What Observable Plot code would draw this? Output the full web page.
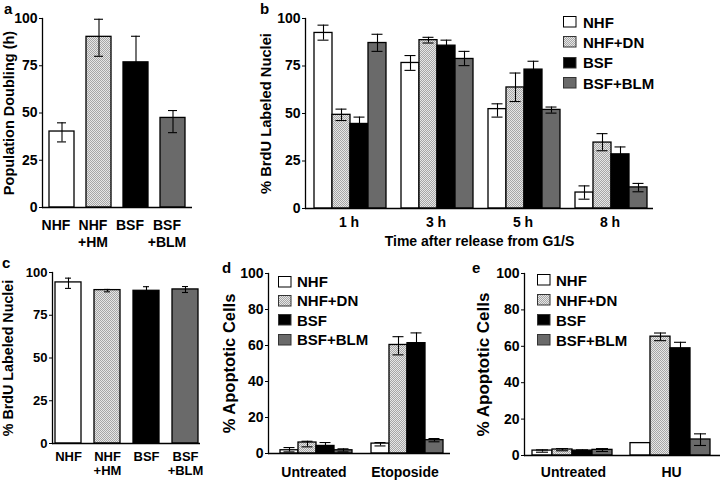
<!DOCTYPE html>
<html><head><meta charset="utf-8">
<script src="https://cdn.jsdelivr.net/npm/d3@7"></script>
<script src="https://cdn.jsdelivr.net/npm/@observablehq/plot@0.6"></script>
<style>
html,body{margin:0;padding:0;background:#fff;}
#fig{position:relative;width:720px;height:481px;overflow:hidden;font-family:"Liberation Sans",Arial,sans-serif;font-weight:bold;color:#000;background:#fff;}
.plab{position:absolute;font-size:15px;line-height:1.2;}
.legend{position:absolute;font-size:15px;line-height:1;}
.legend .row{display:flex;align-items:center;}
</style></head>
<body>
<svg style="position:absolute;width:0;height:0" aria-hidden="true"><defs>
<pattern id="chk" width="2" height="2" patternUnits="userSpaceOnUse">
<rect width="2" height="2" fill="#e6e6e6"/><rect width="1" height="1" fill="#a6a6a6"/><rect x="1" y="1" width="1" height="1" fill="#a6a6a6"/>
</pattern></defs></svg>
<div id="fig"></div>
<script>
// ---------- data ----------
const seriesNames = ["NHF", "NHF+DN", "BSF", "BSF+BLM"];

// panel a
const aCategories = ["NHF", "NHF\n+HM", "BSF", "BSF\n+BLM"];
const aValues = [40.2, 90.3, 76.8, 47.4];
const aLow    = [34.7, 80.0, 63.0, 39.6];
const aHigh   = [44.8, 99.6, 90.6, 51.3];

// panel b (rows: series, cols: time)
const bTimes = ["1 h", "3 h", "5 h", "8 h"];
const bValues = [[92.4, 76.6, 52.3, 8.4], [49.3, 88.6, 63.7, 34.7], [44.5, 85.7, 73.1, 28.5], [87.1, 78.7, 51.9, 11.1]];
const bLow    = [[88.6, 72.7, 48.1, 4.9], [46.3, 87.1, 56.3, 30.4], [40.9, 82.8, 68.7, 24.6], [82.7, 75.2, 50.2, 8.8]];
const bHigh   = [[96.5, 80.5, 55.1, 11.9], [52.3, 90.1, 71.3, 39.4], [48.1, 88.6, 77.5, 32.4], [91.7, 82.7, 53.4, 13.2]];

// panel c
const cCategories = ["NHF", "NHF\n+HM", "BSF", "BSF\n+BLM"];
const cValues = [94.2, 89.7, 89.3, 90.1];
const cLow    = [90.7, 88.7, 86.9, 88.3];
const cHigh   = [96.7, 90.1, 91.7, 91.8];

// panel d
const dTreatments = ["Untreated", "Etoposide"];
const dValues = [[1.8, 5.5], [6.1, 60.3], [4.2, 61.3], [1.8, 7.4]];
const dLow    = [[0.9, 4.2], [3.7, 54.8], [2.3, 55.6], [0.9, 6.5]];
const dHigh   = [[3.3, 6.1], [6.8, 64.9], [6.1, 67.0], [2.6, 8.3]];

// panel e
const eTreatments = ["Untreated", "HU"];
const eValues = [[2.7, 6.8], [3.3, 65.3], [2.7, 58.9], [3.1, 8.8]];
const eLow    = [[1.8, 6.8], [2.6, 63.1], [2.3, 55.6], [2.2, 5.5]];
const eHigh   = [[3.1, 6.8], [3.8, 67.3], [3.1, 62.2], [3.8, 11.9]];

const ticks25 = [0, 25, 50, 75, 100];
const ticks20 = [0, 20, 40, 60, 80, 100];

// ---------- styling ----------
const fills = ["#ffffff", "url(#chk)", "#000000", "#6a6a6a"];
const fig = document.getElementById("fig");
const baseStyle = {fontFamily: '"Liberation Sans", Arial, sans-serif', fontSize: "14px", fontWeight: "bold", background: "transparent", overflow: "visible", color: "#000"};

function place(node, left, top) {
  node.style.position = "absolute";
  node.style.left = left + "px";
  node.style.top = top + "px";
  fig.appendChild(node);
}

function rowsSimple(cats, values, low, high) {
  return cats.map((c, i) => ({cat: c, series: seriesNames[i], value: values[i], lo: low[i], hi: high[i]}));
}
function rowsGrouped(groups, values, low, high) {
  const out = [];
  groups.forEach((g, j) => seriesNames.forEach((s, i) => out.push({group: g, series: s, value: values[i][j], lo: low[i][j], hi: high[i][j]})));
  return out;
}

function simplePlot(rows, cats, cfg) {
  const err = rows.filter(d => d.hi > d.lo);
  return Plot.plot({
    width: cfg.width, height: cfg.height,
    marginLeft: cfg.ml, marginTop: cfg.mt, marginBottom: cfg.mb, marginRight: cfg.mr,
    style: {...baseStyle},
    x: {domain: cats, paddingInner: cfg.pi, paddingOuter: cfg.po},
    y: {domain: [0, 100]},
    color: {domain: seriesNames, range: fills},
    marks: [
      Plot.barY(rows, {x: "cat", y: "value", fill: "series", stroke: "#000", strokeWidth: 1.3}),
      Plot.ruleX(err, {x: "cat", y1: "lo", y2: "hi", stroke: "#000", strokeWidth: 1.1}),
      Plot.tickY(err, {x: "cat", y: "lo", stroke: "#000", strokeWidth: 1.1, insetLeft: cfg.cap, insetRight: cfg.cap}),
      Plot.tickY(err, {x: "cat", y: "hi", stroke: "#000", strokeWidth: 1.1, insetLeft: cfg.cap, insetRight: cfg.cap}),
      Plot.ruleY([0], {stroke: "#000", strokeWidth: 1.3}),
      Plot.frame({anchor: "left", stroke: "#000", strokeWidth: 1.3}),
      Plot.axisX({tickSize: 0, tickPadding: cfg.xpad, dx: cfg.xdx, fontSize: cfg.xfs, lineHeight: cfg.lh, label: null}),
      Plot.axisY({ticks: cfg.yticks, tickSize: 3, tickPadding: 2, fontSize: cfg.yfs, label: null}),
      Plot.axisY({ticks: [], tickSize: 0, label: cfg.ylabel, labelAnchor: "center", labelOffset: cfg.lo, labelArrow: "none", fontSize: cfg.lfs})
    ]
  });
}

function groupedPlot(rows, groups, cfg) {
  const err = rows.filter(d => d.hi > d.lo);
  const marks = [
    Plot.barY(rows, {fx: "group", x: "series", y: "value", fill: "series", stroke: "#000", strokeWidth: 1.3}),
    Plot.ruleX(err, {fx: "group", x: "series", y1: "lo", y2: "hi", stroke: "#000", strokeWidth: 1.1}),
    Plot.tickY(err, {fx: "group", x: "series", y: "lo", stroke: "#000", strokeWidth: 1.1, insetLeft: cfg.cap, insetRight: cfg.cap}),
    Plot.tickY(err, {fx: "group", x: "series", y: "hi", stroke: "#000", strokeWidth: 1.1, insetLeft: cfg.cap, insetRight: cfg.cap}),
    Plot.ruleY([0], {stroke: "#000", strokeWidth: 1.3}),
    Plot.frame({anchor: "left", facetAnchor: "left", stroke: "#000", strokeWidth: 1.3}),
    Plot.axisFx({anchor: "bottom", tickSize: 0, tickPadding: cfg.xpad, fontSize: cfg.xfs,
      label: cfg.xlabel ?? null, labelAnchor: "center", labelOffset: cfg.xlo, labelArrow: "none"}),
    Plot.axisY({ticks: cfg.yticks, tickSize: 3, tickPadding: 2, fontSize: cfg.yfs, label: null}),
    Plot.axisY({ticks: [], tickSize: 0, label: cfg.ylabel, labelAnchor: "center", labelOffset: cfg.lo, labelArrow: "none", fontSize: cfg.lfs})
  ];
  return Plot.plot({
    width: cfg.width, height: cfg.height,
    marginLeft: cfg.ml, marginTop: cfg.mt, marginBottom: cfg.mb, marginRight: cfg.mr,
    style: {...baseStyle},
    fx: {domain: groups, padding: 0},
    x: {domain: seriesNames, paddingInner: 0, paddingOuter: cfg.po, align: cfg.align, axis: null},
    y: {domain: [0, 100]},
    color: {domain: seriesNames, range: fills},
    marks
  });
}

function legend(left, top, rowH, gap) {
  const div = document.createElement("div");
  div.className = "legend";
  seriesNames.forEach((s, i) => {
    const row = document.createElement("div");
    row.className = "row";
    row.style.height = rowH + "px";
    row.innerHTML = `<svg width="14" height="12" style="margin-right:${gap}px;flex:none"><rect x="0.5" y="0.5" width="12.5" height="10.5" fill="${fills[i]}" stroke="${i === 0 ? '#000' : '#333'}" stroke-width="1"/></svg><span>${s}</span>`;
    div.appendChild(row);
  });
  place(div, left, top);
}

function panelLabel(t, left, top) {
  const d = document.createElement("div");
  d.className = "plab";
  d.textContent = t;
  place(d, left, top);
}

// ---------- panel a ----------
place(simplePlot(rowsSimple(aCategories, aValues, aLow, aHigh), aCategories, {
  width: 200, height: 250, ml: 42, mt: 18, mb: 43, mr: 8, pi: 0.32, po: 0.16, cap: 8,
  xpad: 11, xdx: -6, xfs: 14, lh: 1.2, yticks: ticks25, yfs: 14,
  ylabel: "Population Doubling (h)", lo: 39, lfs: 14.5
}), 0, 0);

// ---------- panel b ----------
place(groupedPlot(rowsGrouped(bTimes, bValues, bLow, bHigh), bTimes, {
  width: 470, height: 250, ml: 103, mt: 18, mb: 42, mr: 16, po: 0.37, align: 0.6, cap: 3.5,
  xpad: 9, xfs: 14, xlabel: "Time after release from G1/S", xlo: 37,
  yticks: ticks25, yfs: 14, ylabel: "% BrdU Labeled Nuclei", lo: 45, lfs: 14.7
}), 200, 0);

// ---------- panel c ----------
place(simplePlot(rowsSimple(cCategories, cValues, cLow, cHigh), cCategories, {
  width: 210, height: 241, ml: 52, mt: 32, mb: 38, mr: 10, pi: 0.34, po: 0.05, cap: 10,
  xpad: 7, xdx: 0, xfs: 13, lh: 1.1, yticks: ticks25, yfs: 13,
  ylabel: "% BrdU Labeled Nuclei", lo: 50, lfs: 14.3
}), 0, 240);

// ---------- panel d ----------
place(groupedPlot(rowsGrouped(dTreatments, dValues, dLow, dHigh), dTreatments, {
  width: 255, height: 231, ml: 58, mt: 23, mb: 28, mr: 15, po: 0.43, align: 0.62, cap: 3.5,
  xpad: 14, xfs: 14, yticks: ticks20, yfs: 14, ylabel: "% Apoptotic Cells", lo: 45, lfs: 16.5
}), 210, 250);

// ---------- panel e ----------
place(groupedPlot(rowsGrouped(eTreatments, eValues, eLow, eHigh), eTreatments, {
  width: 255, height: 231, ml: 58, mt: 23, mb: 26, mr: 0, po: 0.4, align: 0.47, cap: 4,
  xpad: 12, xfs: 14, yticks: ticks20, yfs: 14, ylabel: "% Apoptotic Cells", lo: 48, lfs: 17
}), 465, 250);

// ---------- legends & panel letters ----------
legend(563, 12, 20.3, 6);
legend(278, 272, 19.3, 5);
legend(537, 270, 20, 5);

panelLabel("a", 4, 0);
panelLabel("b", 260, 0);
panelLabel("c", 2, 254);
panelLabel("d", 222, 259);
panelLabel("e", 472, 259);
</script>
</body></html>
